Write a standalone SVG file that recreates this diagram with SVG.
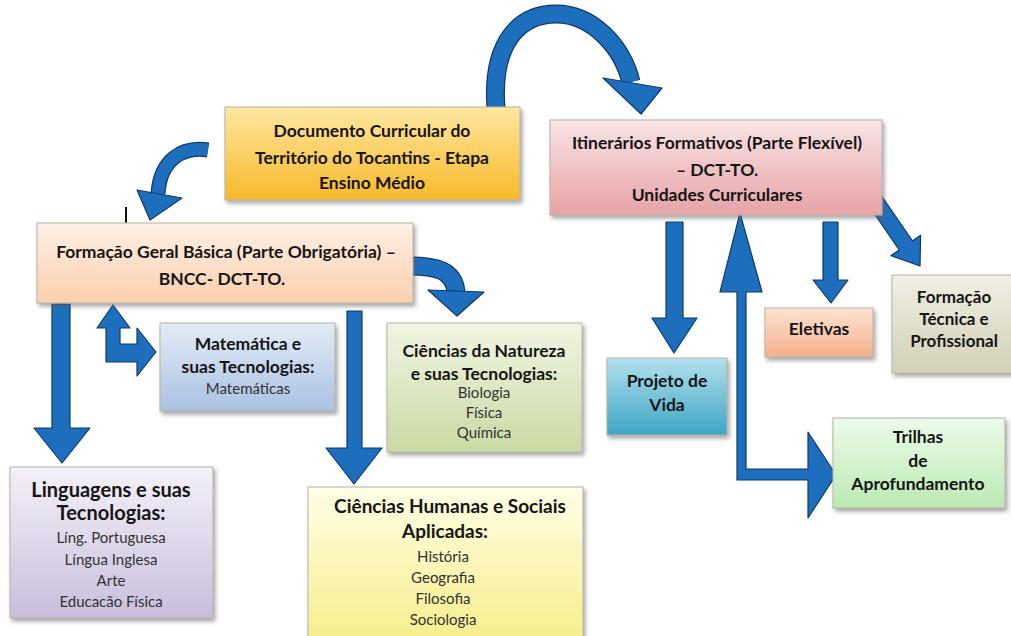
<svg xmlns="http://www.w3.org/2000/svg" width="1011" height="636" viewBox="0 0 1011 636">
<defs>
<filter id="sh" x="-10%" y="-10%" width="125%" height="130%"><feDropShadow dx="2" dy="3" stdDeviation="2" flood-color="#606060" flood-opacity="0.55"/></filter>
<linearGradient id="gDoc" x1="0" y1="0" x2="0" y2="1"><stop offset="0" stop-color="#ffe7a0"/><stop offset="1" stop-color="#f7b92a"/></linearGradient>
<linearGradient id="gIti" x1="0" y1="0" x2="0" y2="1"><stop offset="0" stop-color="#f9e4e4"/><stop offset="1" stop-color="#e7a3a6"/></linearGradient>
<linearGradient id="gFgb" x1="0" y1="0" x2="0" y2="1"><stop offset="0" stop-color="#fef0e6"/><stop offset="1" stop-color="#fbcfac"/></linearGradient>
<linearGradient id="gMat" x1="0" y1="0" x2="0" y2="1"><stop offset="0" stop-color="#e3ecf7"/><stop offset="1" stop-color="#a9c1e2"/></linearGradient>
<linearGradient id="gNat" x1="0" y1="0" x2="0" y2="1"><stop offset="0" stop-color="#f1f5e3"/><stop offset="1" stop-color="#c9daa3"/></linearGradient>
<linearGradient id="gLin" x1="0" y1="0" x2="0" y2="1"><stop offset="0" stop-color="#f4f1f8"/><stop offset="1" stop-color="#c8bedc"/></linearGradient>
<linearGradient id="gHum" x1="0" y1="0" x2="0" y2="1"><stop offset="0" stop-color="#fffde6"/><stop offset="1" stop-color="#f6ee88"/></linearGradient>
<linearGradient id="gPro" x1="0" y1="0" x2="0" y2="1"><stop offset="0" stop-color="#b3e1ee"/><stop offset="1" stop-color="#3ea5c5"/></linearGradient>
<linearGradient id="gEle" x1="0" y1="0" x2="0" y2="1"><stop offset="0" stop-color="#fde4d3"/><stop offset="1" stop-color="#f5b08c"/></linearGradient>
<linearGradient id="gTec" x1="0" y1="0" x2="0" y2="1"><stop offset="0" stop-color="#f0efe2"/><stop offset="1" stop-color="#d3d0b8"/></linearGradient>
<linearGradient id="gTri" x1="0" y1="0" x2="0" y2="1"><stop offset="0" stop-color="#ecfbea"/><stop offset="1" stop-color="#bbe9b2"/></linearGradient>
</defs>
<style>
.box{filter:url(#sh);stroke:#b9b2a6;stroke-width:1}
.h{font-family:Lato,"Liberation Sans",sans-serif;font-weight:bold;fill:#151515;text-anchor:middle;font-size:17.5px}
.hm{font-size:17px}
.hl{font-size:20px}
.hh{font-size:19px}
.s{font-family:Lato,"Liberation Sans",sans-serif;fill:#333;text-anchor:middle;font-size:15px}
.arr{fill:#1d6fbe;stroke:#0e3a68;stroke-width:1.2;stroke-linejoin:round}
.bodyO{fill:none;stroke:#0e3a68}
.bodyI{fill:none;stroke:#1d6fbe}
</style>
<rect width="1011" height="636" fill="#ffffff"/>

<g id="connectors">
  <path class="bodyO" stroke-width="19" d="M496,108 C 491,42 520,14 556,14 C 592,14 622,46 631,82"/>
  <path class="bodyI" stroke-width="16.5" d="M496,108 C 491,42 520,14 556,14 C 592,14 622,46 631,82"/>
  <polygon class="arr" points="603,78 662,88 641,114"/>
  <path class="bodyO" stroke-width="15" d="M208,150 C 182,146 160,160 158,194"/>
  <path class="bodyI" stroke-width="12.5" d="M208,150 C 182,146 160,160 158,194"/>
  <polygon class="arr" points="137,190 182,198 150,220"/>
  <line x1="126" y1="207" x2="126" y2="228" stroke="#111" stroke-width="2"/>
  <path class="bodyO" stroke-width="19" d="M410,266 C 436,266 454,270 456,292"/>
  <path class="bodyI" stroke-width="16.5" d="M410,266 C 436,266 454,270 456,292"/>
  <polygon class="arr" points="428,290 484,292 457,316"/>
  <polygon class="arr" points="52,304 70,304 70,428 90,428 62,463 34,428 52,428"/>
  <polygon class="arr" points="97,328 113,305 130,328 120,328 120,344 137,344 137,328 156,352 137,376 137,362 106,362 106,328"/>
  <polygon class="arr" points="347,311 362,311 362,448 382,448 354,484 326,448 347,448"/>
  <polygon class="arr" points="666,222 683,222 683,318 697,318 674,353 652,318 666,318"/>
  <polygon class="arr" points="823,222 838,222 838,280 848,280 831,303 813,280 823,280"/>
  <polygon class="arr" points="880.6,194.5 912.4,240.9 920.6,235.2 920,266 891,255.6 899.2,249.9 867.4,203.5"/>
  <polygon class="arr" points="740,213 762,292 746,292 746,469 808,469 808,432 836,475 808,518 808,480 737,480 737,292 720,292"/>
</g>

<g id="doc">
  <rect class="box" x="225" y="107" width="295" height="93" fill="url(#gDoc)"/>
  <text class="h" x="372" y="137">Documento Curricular do</text>
  <text class="h" x="372" y="164">Território do Tocantins - Etapa</text>
  <text class="h" x="372" y="189">Ensino Médio</text>
</g>
<g id="itinerarios">
  <rect class="box" x="550" y="120" width="332" height="95" fill="url(#gIti)"/>
  <text class="h" x="717" y="149">Itinerários Formativos (Parte Flexível)</text>
  <text class="h" x="717" y="176">– DCT-TO.</text>
  <text class="h" x="717" y="201">Unidades Curriculares</text>
</g>
<g id="fgb">
  <rect class="box" x="37" y="223" width="376" height="80" fill="url(#gFgb)"/>
  <text class="h" x="226" y="258">Formação Geral Básica (Parte Obrigatória) –</text>
  <text class="h" x="222" y="285">BNCC- DCT-TO.</text>
</g>
<g id="matematica">
  <rect class="box" x="160" y="323" width="175" height="88" fill="url(#gMat)"/>
  <text class="h" x="248" y="350">Matemática e</text>
  <text class="h" x="248" y="373">suas Tecnologias:</text>
  <text class="s" x="248" y="394">Matemáticas</text>
</g>
<g id="natureza">
  <rect class="box" x="387" y="323" width="195" height="129" fill="url(#gNat)"/>
  <text class="h" x="484" y="357">Ciências da Natureza</text>
  <text class="h" x="484" y="380">e suas Tecnologias:</text>
  <text class="s" x="484" y="398">Biologia</text>
  <text class="s" x="484" y="418">Física</text>
  <text class="s" x="484" y="438">Química</text>
</g>
<g id="linguagens">
  <rect class="box" x="10" y="467" width="203" height="151" fill="url(#gLin)"/>
  <text class="h hl" x="111" y="497">Linguagens e suas</text>
  <text class="h hl" x="111" y="520">Tecnologias:</text>
  <text class="s" x="111" y="543">Líng. Portuguesa</text>
  <text class="s" x="111" y="565">Língua Inglesa</text>
  <text class="s" x="111" y="586">Arte</text>
  <text class="s" x="111" y="607">Educacão Física</text>
</g>
<g id="humanas">
  <rect class="box" x="308" y="487" width="275" height="160" fill="url(#gHum)"/>
  <text class="h hh" x="450" y="513">Ciências Humanas e Sociais</text>
  <text class="h hh" x="445" y="538">Aplicadas:</text>
  <text class="s" x="443" y="562">História</text>
  <text class="s" x="443" y="583">Geografia</text>
  <text class="s" x="443" y="604">Filosofia</text>
  <text class="s" x="443" y="625">Sociologia</text>
</g>
<g id="projeto">
  <rect class="box" x="607" y="358" width="120" height="77" fill="url(#gPro)"/>
  <text class="h" x="667" y="387">Projeto de</text>
  <text class="h" x="667" y="411">Vida</text>
</g>
<g id="eletivas">
  <rect class="box" x="765" y="308" width="108" height="49" fill="url(#gEle)"/>
  <text class="h" x="819" y="335">Eletivas</text>
</g>
<g id="tecnica">
  <rect class="box" x="892" y="275" width="122" height="98" fill="url(#gTec)"/>
  <text class="h hm" x="954" y="303">Formação</text>
  <text class="h hm" x="954" y="325">Técnica e</text>
  <text class="h hm" x="954" y="347">Profissional</text>
</g>
<g id="trilhas">
  <rect class="box" x="833" y="418" width="172" height="90" fill="url(#gTri)"/>
  <text class="h" x="918" y="443">Trilhas</text>
  <text class="h" x="918" y="467">de</text>
  <text class="h" x="918" y="490">Aprofundamento</text>
</g>
</svg>
